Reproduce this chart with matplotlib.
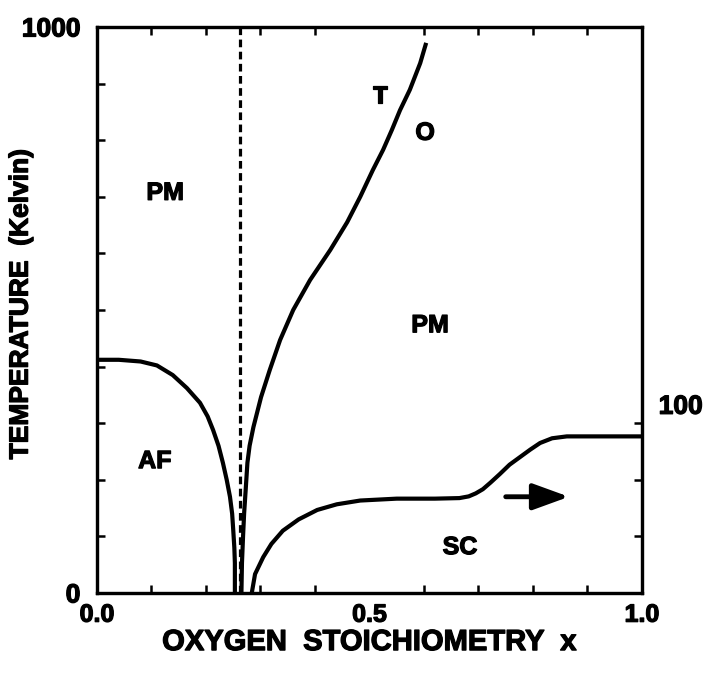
import matplotlib
matplotlib.use('Agg')
import matplotlib.pyplot as plt
import matplotlib.patheffects as pe
plt.rcParams['font.family'] = 'sans-serif'
plt.rcParams['font.sans-serif'] = ['Liberation Sans', 'DejaVu Sans']
plt.rcParams['font.weight'] = 'bold'

# Neel temperature of the antiferromagnet (Kelvin, left axis)
af_x = [0.0, 0.04, 0.08, 0.11, 0.139, 0.165, 0.189, 0.203, 0.213, 0.223,
        0.231, 0.238, 0.244, 0.248, 0.250, 0.252, 0.253, 0.253]
af_t = [412, 412, 409, 402, 385, 362, 336, 312, 288, 260, 230, 200, 170,
        140, 111, 80, 53, 0]

# tetragonal / orthorhombic boundary (Kelvin, left axis)
to_x = [0.265, 0.266, 0.268, 0.270, 0.273, 0.276, 0.280, 0.287, 0.301,
        0.317, 0.336, 0.360, 0.391, 0.428, 0.459, 0.483, 0.506, 0.525,
        0.541, 0.556, 0.574, 0.593, 0.604]
to_t = [0, 53, 100, 141, 185, 230, 260, 293, 346, 394, 447, 500, 553, 606,
        655, 700, 747, 783, 818, 853, 889, 936, 972]

# superconducting Tc (Kelvin, right axis scale)
sc_x = [0.284, 0.290, 0.305, 0.320, 0.341, 0.370, 0.404, 0.440, 0.483,
        0.550, 0.620, 0.665, 0.682, 0.695, 0.708, 0.722, 0.739, 0.757,
        0.776, 0.795, 0.813, 0.835, 0.862, 0.900, 1.0]
sc_t = [0, 10, 19, 26, 33, 39, 44, 47, 49, 50, 50, 50.3, 51.2, 52.8, 55,
        58.5, 63, 68, 72, 76, 79.5, 82, 83, 83, 83]

x_crit = 0.262

xticks = [0.0, 0.5, 1.0]
xlabels = ['0.0', '0.5', '1.0']
yticks = [0, 1000]
ylabels = ['0', '1000']

heavy = [pe.withStroke(linewidth=0.9, foreground='black')]

fig = plt.figure(figsize=(7.09, 6.73), dpi=100)
ax = fig.add_axes([0.1368, 0.1189, 0.7687, 0.841])
ax.set_xlim(0, 1)
ax.set_ylim(0, 1000)

for axis in ['top', 'bottom', 'left', 'right']:
    ax.spines[axis].set_linewidth(2.3)

ax.plot(af_x, af_t, color='black', linewidth=3.0, solid_capstyle='butt')
ax.plot(to_x, to_t, color='black', linewidth=3.0, solid_capstyle='butt')
ax.plot([x_crit, x_crit], [0, 1000], color='black', linewidth=2.3,
        dashes=(2.4, 1.4))

ax.set_xticks(xticks, labels=xlabels, fontsize=18, fontweight='bold')
ax.set_xticks([i / 10 for i in range(1, 10)], minor=True)
ax.set_yticks(yticks, labels=ylabels, fontsize=19, fontweight='bold')
ax.set_yticks(range(100, 1000, 100), minor=True)
ax.tick_params(which='major', direction='in', length=0, pad=12)
ax.tick_params(axis='x', which='major', pad=7)
ax.tick_params(which='minor', direction='in', length=6, width=1.8,
               top=True, bottom=True, left=True, right=False)
for t in ax.get_xticklabels() + ax.get_yticklabels():
    t.set_path_effects(heavy)

ax.set_xlabel('OXYGEN  STOICHIOMETRY  x', fontsize=21, fontweight='bold',
              labelpad=1, path_effects=heavy)
ax.set_ylabel('TEMPERATURE  (Kelvin)', fontsize=19, fontweight='bold',
              path_effects=heavy)
ax.yaxis.set_label_coords(-0.118, 0.51)

# right axis for the superconducting Tc
ax2 = ax.twinx()
ax2.set_ylim(0, 300)
ax2.plot(sc_x, sc_t, color='black', linewidth=3.0)
ax2.set_yticks([100], labels=['100'], fontsize=19, fontweight='bold')
ax2.set_yticks([30, 60, 90], minor=True)
ax2.tick_params(which='major', length=0, pad=12)
ax2.tick_params(which='minor', direction='in', length=6, width=1.8)
for t in ax2.get_yticklabels():
    t.set_path_effects(heavy)
for axis in ['top', 'bottom', 'left', 'right']:
    ax2.spines[axis].set_linewidth(2.3)

ax2.annotate('', xy=(0.866, 51), xytext=(0.750, 51),
             arrowprops=dict(arrowstyle='-|>,head_length=1.1,head_width=0.4',
                             mutation_scale=20, color='black', lw=3.5,
                             shrinkA=0, shrinkB=0))

labels = [('PM', 0.125, 707), ('PM', 0.611, 473), ('AF', 0.106, 233),
          ('SC', 0.666, 81), ('T', 0.519, 878), ('O', 0.602, 813)]
for s, lx, ly in labels:
    ax.text(lx, ly, s, fontsize=18, fontweight='bold', ha='center',
            va='center', path_effects=heavy)

plt.savefig('out.png', dpi=100)
